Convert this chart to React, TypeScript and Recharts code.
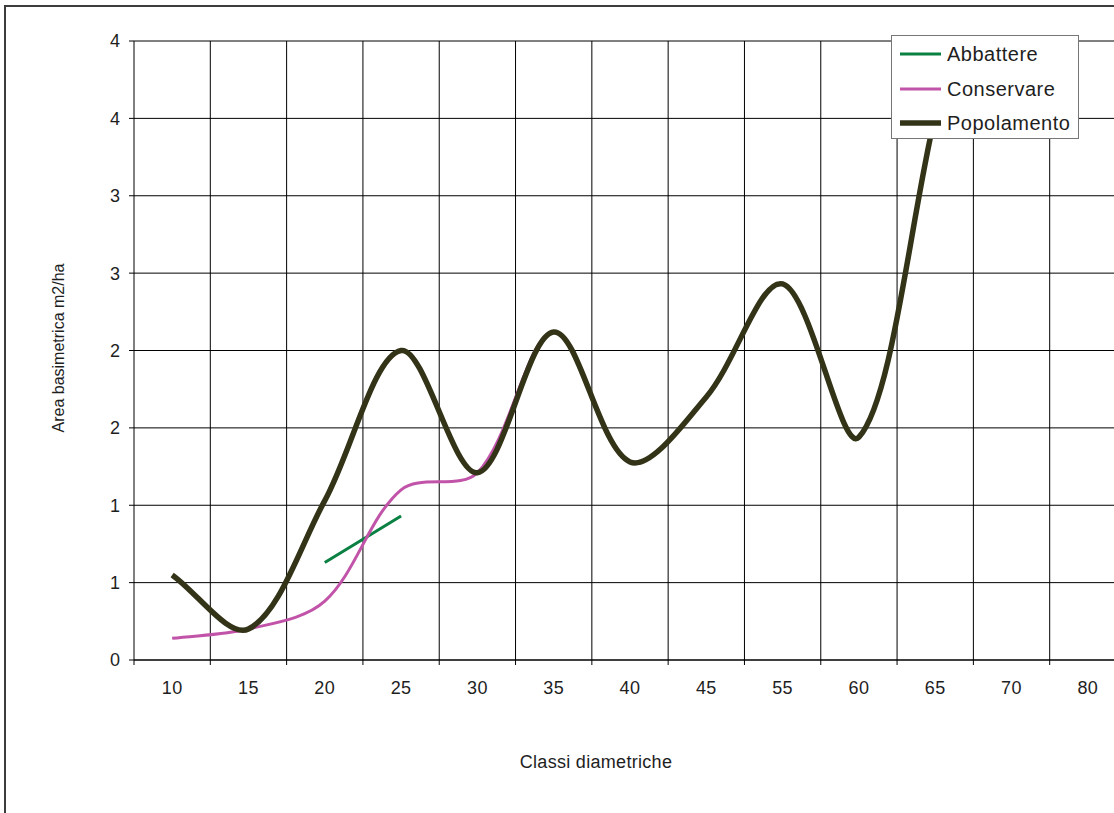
import React from "react";
import { LineChart, Line, XAxis, YAxis, CartesianGrid, Legend, Label } from "recharts";

const classi = ["10", "15", "20", "25", "30", "35", "40", "45", "55", "60", "65", "70", "80"];
const abbattere = [null, null, 0.63, 0.93, null, null, null, null, null, null, null, null, null];
const conservare = [0.14, 0.2, 0.38, 1.1, 1.21, 2.12, 1.28, 1.7, 2.43, 1.44, 3.52, null, null];
const popolamento = [0.55, 0.2, 1.03, 2.0, 1.21, 2.12, 1.28, 1.7, 2.43, 1.44, 3.52, null, null];
const yTicks = [0, 0.5, 1, 1.5, 2, 2.5, 3, 3.5, 4];

// each class sits in the middle of its slot, like Excel's category axis
const data = classi.map((c, i) => ({
  classe: c,
  pos: i + 0.5,
  abbattere: abbattere[i],
  conservare: conservare[i],
  popolamento: popolamento[i],
}));

// slot borders get a tick mark, slot middles get the label
const xTicks = Array.from({ length: classi.length * 2 + 1 }, (_, i) => i / 2);
const borders = classi.map((_, i) => i + 1);

const FONT = '"Liberation Sans", Arial, sans-serif';
const TEXT = "#1e1e1e";

// Excel-like smoothing: bezier with tangents scaled by chord length
const excelSmooth = (context: any) => {
  let pts: number[][] = [];
  const t = 1 / 3;
  const dist = (a: number[], b: number[]) => Math.hypot(b[0] - a[0], b[1] - a[1]);
  return {
    areaStart() {},
    areaEnd() {},
    lineStart() {
      pts = [];
    },
    point(x: number, y: number) {
      pts.push([+x, +y]);
    },
    lineEnd() {
      if (!pts.length) return;
      context.moveTo(pts[0][0], pts[0][1]);
      for (let i = 0; i < pts.length - 1; i++) {
        const p0 = pts[i - 1] ?? pts[i];
        const p1 = pts[i];
        const p2 = pts[i + 1];
        const p3 = pts[i + 2] ?? pts[i + 1];
        const a = dist(p0, p1);
        const b = dist(p1, p2);
        const c = dist(p2, p3);
        const f1 = a + b > 0 ? (t * b) / (a + b) : 0;
        const f2 = b + c > 0 ? (t * b) / (b + c) : 0;
        context.bezierCurveTo(
          p1[0] + f1 * (p2[0] - p0[0]),
          p1[1] + f1 * (p2[1] - p0[1]),
          p2[0] - f2 * (p3[0] - p1[0]),
          p2[1] - f2 * (p3[1] - p1[1]),
          p2[0],
          p2[1]
        );
      }
    },
  };
};

const XTick = (props: any) => {
  const { x, y, payload } = props;
  const v = payload.value;
  if (Number.isInteger(v)) {
    return <line x1={x} y1={y} x2={x} y2={y + 5} stroke="#000" />;
  }
  return (
    <text x={x} y={y + 34} textAnchor="middle" fontSize={18} fill={TEXT} letterSpacing={0.4}>
      {classi[Math.floor(v)]}
    </text>
  );
};

const renderLegend = ({ payload }: any) => (
  <div
    style={{
      width: 188,
      height: 104,
      boxSizing: "border-box",
      border: "1px solid #777",
      background: "#fff",
      paddingTop: 1,
      paddingLeft: 8,
    }}
  >
    {(payload || []).map((e: any) => (
      <div key={e.value} style={{ display: "flex", alignItems: "center", height: 34.5 }}>
        <svg width={41} height={8} style={{ display: "block" }}>
          <line x1={0} x2={41} y1={4} y2={4} stroke={e.color} strokeWidth={e.value === "Popolamento" ? 5.5 : 3} />
        </svg>
        <span style={{ marginLeft: 6, fontSize: 20, color: TEXT, lineHeight: "20px", letterSpacing: 0.5 }}>
          {e.value}
        </span>
      </div>
    ))}
  </div>
);

export default function App() {
  return (
    <div
      style={{
        position: "fixed",
        left: 0,
        top: 0,
        width: 1114,
        height: 813,
        overflow: "hidden",
        background: "#fff",
        fontFamily: FONT,
      }}
    >
      <div
        style={{
          position: "absolute",
          left: 4,
          top: 5,
          right: 0,
          bottom: 0,
          borderLeft: "2px solid #3c3c3c",
          borderTop: "2px solid #3c3c3c",
        }}
      />
      <div style={{ position: "absolute", left: 0, top: 0 }}>
        <LineChart width={1150} height={813} data={data} margin={{ top: 41, right: 24, bottom: 113, left: 74 }}>
          <CartesianGrid stroke="#000" verticalValues={borders} />
          <XAxis
            dataKey="pos"
            type="number"
            domain={[0, classi.length]}
            ticks={xTicks}
            interval={0}
            tick={<XTick />}
            tickLine={false}
            tickSize={0}
            tickMargin={0}
            height={40}
            axisLine={{ stroke: "#000" }}
            allowDataOverflow
          >
            <Label
              content={() => (
                <text x={596} y={768} textAnchor="middle" fontSize={18} fill={TEXT} letterSpacing={0.3}>
                  Classi diametriche
                </text>
              )}
            />
          </XAxis>
          <YAxis
            domain={[0, 4]}
            ticks={yTicks}
            interval={0}
            width={60}
            tickSize={5}
            tickMargin={9}
            tickFormatter={(v: number) => String(Math.round(v))}
            tick={{ fontSize: 18, fill: TEXT }}
            axisLine={{ stroke: "#000" }}
            tickLine={{ stroke: "#000" }}
            allowDataOverflow
          >
            <Label
              content={() => (
                <text
                  x={58}
                  y={348}
                  transform="rotate(-90 58 348)"
                  textAnchor="middle"
                  dominantBaseline="central"
                  fontSize={16}
                  fill={TEXT}
                >
                  Area basimetrica m2/ha
                </text>
              )}
            />
          </YAxis>
          <Legend
            content={renderLegend}
            layout="horizontal"
            verticalAlign="middle"
            align="center"
            wrapperStyle={{ left: 891, top: 35, width: 188, height: 104 }}
          />
          <Line
            dataKey="abbattere"
            name="Abbattere"
            type={excelSmooth as any}
            stroke="#0a8043"
            strokeWidth={3}
            dot={false}
            activeDot={false}
            connectNulls={false}
            isAnimationActive={false}
          />
          <Line
            dataKey="conservare"
            name="Conservare"
            type={excelSmooth as any}
            stroke="#c154a9"
            strokeWidth={3}
            dot={false}
            activeDot={false}
            connectNulls={false}
            isAnimationActive={false}
          />
          <Line
            dataKey="popolamento"
            name="Popolamento"
            type={excelSmooth as any}
            stroke="#333318"
            strokeWidth={5.5}
            strokeLinejoin="round"
            dot={false}
            activeDot={false}
            connectNulls={false}
            isAnimationActive={false}
          />
        </LineChart>
      </div>
    </div>
  );
}
